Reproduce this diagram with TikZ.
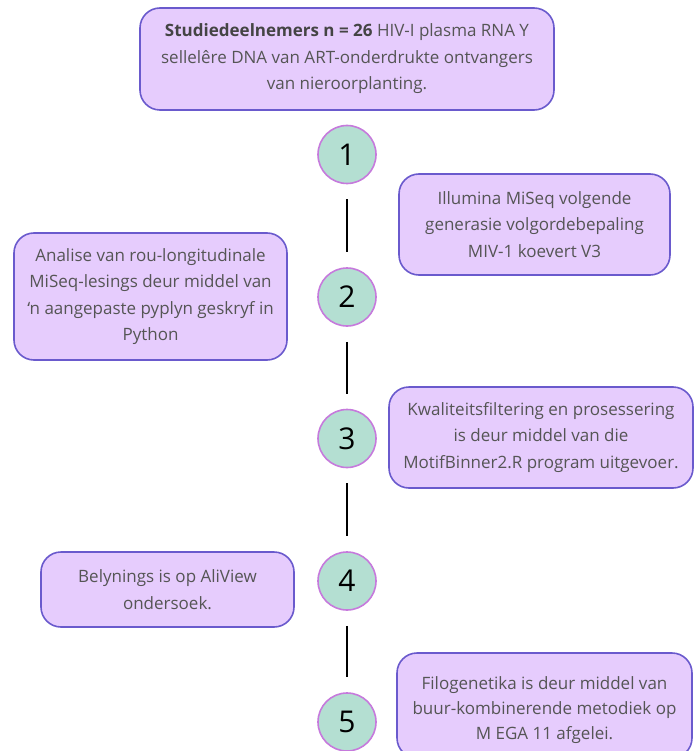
\documentclass[tikz,border=0pt]{standalone}
\usepackage{fontspec}
\setmainfont{Open Sans}
\begin{document}
\begin{tikzpicture}[x=1pt,y=-1pt,
  stepbox/.style={draw=boxedge, fill=boxfill, line width=1.6pt, rounded corners=20pt,
    text=txt, align=center, inner sep=0pt, font=\fontsize{17}{26.5}\selectfont},
  steptext/.style={text=txt, align=center, inner sep=0pt, font=\fontsize{17}{25}\selectfont},
  numcirc/.style={circle, draw=circedge, fill=circfill, line width=1.6pt,
    minimum size=58pt, inner sep=0pt, font=\fontsize{30}{30}\selectfont, text=black},
  link/.style={line width=1.8pt, black}]
\definecolor{boxfill}{HTML}{E6CCFD}
\definecolor{boxedge}{HTML}{6A5ACD}
\definecolor{circfill}{HTML}{B4DFD2}
\definecolor{circedge}{HTML}{C67ADC}
\definecolor{txt}{HTML}{555555}
\useasboundingbox[fill=white] (0,0) rectangle (700,751);
\clip (0,0) rectangle (700,751);

\node[stepbox, minimum width=414pt, minimum height=102pt] (top) at (347,59)
  {\textbf{\color[HTML]{444444}Studiedeelnemers n = 26} HIV-I plasma RNA Y\\
   sellelêre DNA van ART-onderdrukte ontvangers\\ van nieroorplanting.};

\node[numcirc] (c1) at (347,154.5) {1};
\node[numcirc] (c2) at (347,297) {2};
\node[numcirc] (c3) at (347,438.5) {3};
\node[numcirc] (c4) at (347,581) {4};
\node[numcirc] (c5) at (347,722) {5};

\node[stepbox, minimum width=271pt, minimum height=101pt] (b1) at (534.5,224.5)
  {Illumina MiSeq volgende\\ generasie volgordebepaling\\ MIV-1 koevert V3};
\node[stepbox, minimum width=273pt, minimum height=127pt] (b2) at (150.5,296.5)
  {Analise van rou-longitudinale\\ MiSeq-lesings deur middel van\\ ‘n aangepaste pyplyn geskryf in\\ Python};
\node[stepbox, minimum width=304pt, minimum height=101pt] (b3) at (541,437.5)
  {Kwaliteitsfiltering en prosessering\\ is deur middel van die\\ MotifBinner2.R program uitgevoer.};
\node[stepbox, minimum width=253pt, minimum height=75pt] (b4) at (167.5,589.5)
  {Belynings is op AliView\\ ondersoek.};
\node[stepbox, minimum width=295pt, minimum height=105pt] (b5) at (544.5,705.5) {};
\node[steptext] (b5t) at (544.5,710)
  {Filogenetika is deur middel van\\ buur-kombinerende metodiek op\\ M EGA 11 afgelei.};

\draw[link] ([yshift=-15pt]c1.south) -- ([yshift=15pt]c2.north);
\draw[link] ([yshift=-15pt]c2.south) -- ([yshift=15pt]c3.north);
\draw[link] ([yshift=-15pt]c3.south) -- ([yshift=15pt]c4.north);
\draw[link] ([yshift=-15pt]c4.south) -- ([yshift=15pt]c5.north);
\end{tikzpicture}
\end{document}
